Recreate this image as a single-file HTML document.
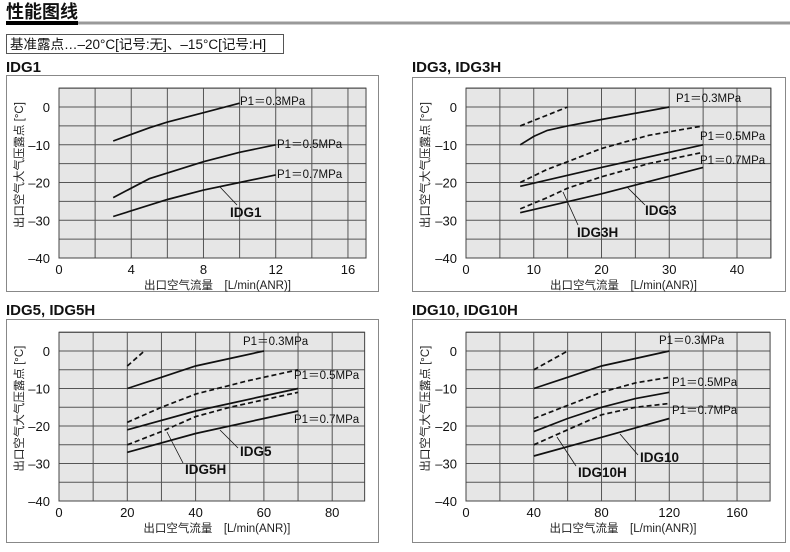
<!DOCTYPE html>
<html><head><meta charset="utf-8"><style>
body{margin:0;background:#fff;width:790px;height:547px;overflow:hidden;}
svg text{font-family:"Liberation Sans","Noto Sans CJK SC",sans-serif;}
</style></head><body>
<svg id="s" width="790" height="547" xmlns="http://www.w3.org/2000/svg">
<text x="6" y="18" font-size="18" font-weight="bold" fill="#111">性能图线</text>
<rect x="78" y="21.5" width="712" height="3" fill="#999"/>
<rect x="6" y="21" width="72" height="4" fill="#000"/>
<rect x="6.5" y="34.5" width="277" height="19" fill="#fff" stroke="#555"/>
<text x="10" y="49" font-size="13.5" fill="#111">基准露点…–20°C[记号:无]、–15°C[记号:H]</text>
<text x="6" y="72" font-size="15" font-weight="bold" fill="#111">IDG1</text>
<text x="412" y="72" font-size="15" font-weight="bold" fill="#111">IDG3, IDG3H</text>
<text x="6" y="315" font-size="15" font-weight="bold" fill="#111">IDG5, IDG5H</text>
<text x="412" y="315" font-size="15" font-weight="bold" fill="#111">IDG10, IDG10H</text>
</svg>
<script>
var S=document.getElementById('s'),NS='http://www.w3.org/2000/svg';
function el(t,a,txt){var e=document.createElementNS(NS,t);for(var k in a)e.setAttribute(k,a[k]);if(txt!=null)e.textContent=txt;S.appendChild(e);return e;}
function panel(o){
 var bx=o.bx,by=o.by;
 el('rect',{x:bx+.5,y:by+.5,width:o.bw,height:o.bh,fill:'#fff',stroke:'#888'});
 var X=function(v){return o.x0+v*o.sx},Y=function(v){return o.y0-v*o.sy};
 var L=X(0),R=X(o.xmax),T=Y(5),B=Y(-40);
 el('rect',{x:L,y:T,width:R-L,height:B-T,fill:'#e6e6e6'});
 for(var v=0;v<=o.xmax+0.01;v+=o.gx){el('line',{x1:X(v),x2:X(v),y1:T,y2:B,stroke:'#555','stroke-width':1});}
 for(var w=5;w>=-40;w-=5){el('line',{x1:L,x2:R,y1:Y(w),y2:Y(w),stroke:'#555','stroke-width':1});}
 el('rect',{x:L,y:T,width:R-L,height:B-T,fill:'none',stroke:'#444','stroke-width':1});
 [0,-10,-20,-30,-40].forEach(function(w){el('text',{x:L-9,y:Y(w)+5,'font-size':13,'text-anchor':'end',fill:'#111'},w==0?'0':'–'+(-w));});
 o.ticks.forEach(function(v){el('text',{x:X(v),y:B+16,'font-size':13,'text-anchor':'middle',fill:'#111'},''+v);});
 el('text',{x:(L+R)/2+5,y:B+31,'font-size':11.5,'text-anchor':'middle',fill:'#222'},'出口空气流量　[L/min(ANR)]');
 var cy=(T+B)/2-8;
 el('text',{x:0,y:0,'font-size':11.5,'text-anchor':'middle',fill:'#222',transform:'translate('+(bx+17)+','+cy+') rotate(-90)'},'出口空气大气压露点  [°C]');
 o.curves.forEach(function(c){
  var d=c.p.map(function(p,i){return (i?'L':'M')+X(p[0]).toFixed(1)+','+Y(p[1]).toFixed(1)}).join(' ');
  var a={d:d,fill:'none',stroke:'#111','stroke-width':1.7};
  if(c.dash)a['stroke-dasharray']='5,3';
  el('path',a);
 });
 o.labels.forEach(function(l){
  el('text',{x:l[0],y:l[1],'font-size':l[3]?13.5:11.5,'font-weight':l[3]?'bold':'normal',fill:'#111'},l[2]);
 });
 o.leaders.forEach(function(l){el('line',{x1:l[0],y1:l[1],x2:l[2],y2:l[3],stroke:'#111','stroke-width':0.8});});
}
panel({bx:6,by:75,bw:372,bh:216,x0:59,sx:18.06,y0:107,sy:3.775,xmax:17,gx:2,ticks:[0,4,8,12,16],
 curves:[{p:[[3,-9],[5,-5.5],[6,-4],[8,-1.5],[10,1]]},
 {p:[[3,-24],[5,-19],[8,-14.5],[10,-12],[12,-10]]},
 {p:[[3,-29],[6,-24.5],[8,-22],[10,-20],[12,-18]]}],
 labels:[[240,105,'P1＝0.3MPa'],[277,148,'P1＝0.5MPa'],[277,178,'P1＝0.7MPa'],[230,217,'IDG1',1]],
 leaders:[[220,187,237,205]]});
panel({bx:412,by:77,bw:373,bh:214,x0:466,sx:6.775,y0:107,sy:3.775,xmax:45,gx:5,ticks:[0,10,20,30,40],
 curves:[{p:[[8,-5],[15,0]],dash:1},{p:[[8,-10],[10,-7.8],[12,-6.2],[15,-5],[20,-3.3],[30,0]]},
 {p:[[8,-20],[12,-16.5],[15,-14.5],[20,-11],[27,-7.5],[35,-5]],dash:1},{p:[[8,-21],[20,-16],[35,-10]]},
 {p:[[8,-27],[12,-24],[15,-21.5],[20,-18.5],[27,-15],[35,-12]],dash:1},{p:[[8,-28],[20,-23],[35,-16]]}],
 labels:[[676,102,'P1＝0.3MPa'],[700,140,'P1＝0.5MPa'],[700,164,'P1＝0.7MPa'],[645,215,'IDG3',1],[577,237,'IDG3H',1]],
 leaders:[[627,187,645,205],[563,192,578,225]]});
panel({bx:6,by:319,bw:372,bh:223,x0:59,sx:3.415,y0:351,sy:3.75,xmax:89.5,gx:10,ticks:[0,20,40,60,80],
 curves:[{p:[[20,-4],[25,0]],dash:1},{p:[[20,-10],[30,-7],[40,-4],[50,-2],[60,0]]},
 {p:[[20,-19],[30,-15],[40,-11.5],[55,-8],[70,-5]],dash:1},{p:[[20,-21],[40,-16],[60,-12],[70,-10]]},
 {p:[[20,-25],[30,-21.5],[40,-17.5],[50,-15],[70,-11]],dash:1},{p:[[20,-27],[40,-22],[60,-18],[70,-16]]}],
 labels:[[243,345,'P1＝0.3MPa'],[294,379,'P1＝0.5MPa'],[294,423,'P1＝0.7MPa'],[240,456,'IDG5',1],[185,474,'IDG5H',1]],
 leaders:[[220,430,238,448],[167,432,183,463]]});
panel({bx:412,by:319,bw:373,bh:223,x0:466,sx:1.694,y0:351,sy:3.75,xmax:179.5,gx:20,ticks:[0,40,80,120,160],
 curves:[{p:[[40,-5],[60,0]],dash:1},{p:[[40,-10],[60,-7],[80,-4],[100,-2],[120,0]]},
 {p:[[40,-18],[60,-14.5],[80,-11],[100,-8.5],[120,-7]],dash:1},{p:[[40,-21.5],[60,-18],[80,-15],[100,-12.7],[120,-11]]},
 {p:[[40,-25],[60,-21],[80,-17],[100,-15],[120,-14]],dash:1},{p:[[40,-28],[80,-23],[120,-18]]}],
 labels:[[659,344,'P1＝0.3MPa'],[672,386,'P1＝0.5MPa'],[672,414,'P1＝0.7MPa'],[640,462,'IDG10',1],[578,477,'IDG10H',1]],
 leaders:[[620,434,638,455],[557,437,576,466]]});
</script>
</body></html>
